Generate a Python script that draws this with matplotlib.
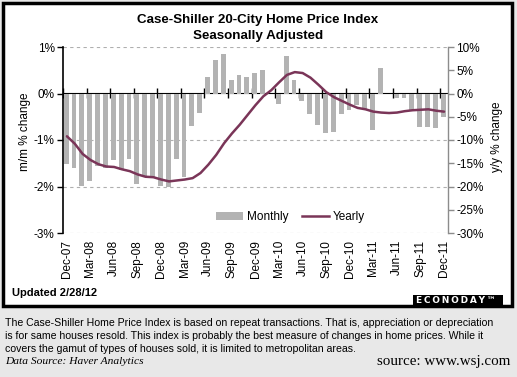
import matplotlib
matplotlib.use("Agg")
import matplotlib.pyplot as plt
from matplotlib.patches import Rectangle, Patch
from matplotlib.lines import Line2D
from matplotlib.ticker import FuncFormatter, FixedLocator, NullFormatter
import numpy as np

# ---------------- data ----------------
tick_labels = ["Dec-07", "Mar-08", "Jun-08", "Sep-08", "Dec-08", "Mar-09", "Jun-09",
               "Sep-09", "Dec-09", "Mar-10", "Jun-10", "Sep-10", "Dec-10", "Mar-11",
               "Jun-11", "Sep-11", "Dec-11"]

# monthly (m/m % change), Dec-07 .. Dec-11
monthly = [-1.52, -1.61, -1.98, -1.89, -1.55, -1.60, -1.42, -1.65, -1.40, -1.94,
           -1.78, -1.80, -1.98, -2.01, -1.41, -1.80, -0.70, -0.42, 0.35, 0.72,
           0.85, 0.30, 0.40, 0.35, 0.45, 0.50, 0.00, -0.22, 0.81, 0.28,
           -0.17, -0.45, -0.68, -0.86, -0.83, -0.45, -0.35, -0.24, -0.33, -0.78,
           0.54, -0.02, -0.09, -0.10, -0.35, -0.73, -0.73, -0.75, -0.51]

# yearly (y/y % change), Dec-07 .. Dec-11
yearly = [-9.2, -10.8, -13.0, -14.3, -15.2, -15.7, -15.8, -16.3, -16.7, -17.4,
          -17.9, -18.0, -18.5, -18.9, -18.7, -18.5, -18.2, -17.1, -15.3, -13.2,
          -10.7, -8.6, -6.7, -4.6, -2.5, -0.6, 0.7, 2.4, 4.0, 4.6,
          4.4, 3.4, 1.9, 0.3, -0.8, -1.6, -2.4, -3.1, -3.4, -3.9,
          -4.1, -4.2, -4.1, -3.8, -3.6, -3.5, -3.4, -3.7, -3.9]

left_ticks = [1, 0, -1, -2, -3]
right_ticks = [10, 5, 0, -5, -10, -15, -20, -25, -30]

# ---------------- style ----------------
W, H = 517, 377
BG = "#E8E8E8"
BAR = "#B3B3B3"
LINE = "#7A3558"
FONT = "Liberation Sans"

plt.rcParams["font.family"] = [FONT, "DejaVu Sans"]

fig = plt.figure(figsize=(W / 100, H / 100), dpi=100, facecolor=BG)


def fx(px):
    return px / W


def fy(py):
    return 1 - py / H


# white chart frame
fig.add_artist(Rectangle((fx(3), fy(306)), fx(512) - fx(3), fy(3) - fy(306),
                         transform=fig.transFigure, facecolor="white",
                         edgecolor="black", lw=2.5, zorder=0))

L, R, T, B = 63, 448, 47, 233
ax = fig.add_axes([fx(L), fy(B), fx(R) - fx(L), fy(T) - fy(B)])
ax.set_facecolor("none")

n = len(monthly)
x = np.arange(n)
ax.bar(x - 0.1, monthly, width=0.62, color=BAR, zorder=1)
ax.set_xlim(-0.5, n - 0.5)
ax.set_ylim(-3, 1)

# gridlines (dashed)
for v in left_ticks:
    if v != 0:
        ax.axhline(v, color="#AFAFAF", lw=0.8, ls=(0, (3, 3)), zorder=0.5)

for s in ["top", "bottom", "right"]:
    ax.spines[s].set_visible(False)
ax.spines["left"].set_linewidth(1.2)
ax.spines["left"].set_color("black")

ax.set_yticks(left_ticks)
ax.yaxis.set_major_formatter(FuncFormatter(lambda v, p: f"{int(round(v))}%"))
ax.tick_params(axis="y", direction="out", length=4, width=1, colors="black",
               labelsize=8.5, pad=2)

# x tick labels at bottom
lab_pos = np.arange(0, n, 3)
ax.set_xticks(lab_pos)
ax.set_xticklabels(tick_labels, rotation=90, fontsize=8.5)
ax.tick_params(axis="x", length=0, pad=5)

# zero axis line with tick marks
sec = ax.secondary_xaxis(0.75)
sec.spines["bottom"].set_linewidth(1.2)
sec.spines["bottom"].set_color("black")
sec.xaxis.set_major_locator(FixedLocator(list(np.arange(-0.5, n, 3))))
sec.xaxis.set_major_formatter(NullFormatter())
sec.tick_params(axis="x", direction="inout", length=7, width=1, colors="black")

# right axis (yearly)
ax2 = ax.twinx()
ax2.set_ylim(-30, 10)
ax2.plot(x, yearly, color=LINE, lw=1.8, zorder=3, solid_capstyle="round")
for s in ["top", "bottom", "left"]:
    ax2.spines[s].set_visible(False)
ax2.spines["right"].set_color("#8C8C8C")
ax2.spines["right"].set_linewidth(1)
ax2.set_yticks(right_ticks)
ax2.yaxis.set_major_formatter(FuncFormatter(lambda v, p: f"{int(round(v))}%"))
ax2.tick_params(axis="y", direction="out", length=4, width=1, colors="#8C8C8C",
                labelcolor="black", labelsize=8.5, pad=2)

# legend
handles = [Patch(facecolor=BAR, edgecolor="none"),
           Line2D([], [], color=LINE, lw=1.8)]
ax2.legend(handles, ["Monthly", "Yearly"], loc="center",
           bbox_to_anchor=((290.5 - L) / (R - L), (B - 217) / (B - T)),
           ncol=2, frameon=False, fontsize=8.5, handlelength=2.3,
           handletextpad=0.3, columnspacing=1.2, handleheight=0.6)

# axis titles
fig.text(fx(25), fy(132), "m/m % change", rotation=90, ha="center", va="center",
         fontsize=8.5)
fig.text(fx(497), fy(137), "y/y % change", rotation=90, ha="center", va="center",
         fontsize=8.5)

# chart title
fig.text(fx(258), fy(20), "Case-Shiller 20-City Home Price Index", ha="center",
         va="center", fontsize=9.6, fontweight="bold")
fig.text(fx(258), fy(36), "Seasonally Adjusted", ha="center", va="center",
         fontsize=9.6, fontweight="bold")

fig.text(fx(12), fy(293), "Updated 2/28/12", ha="left", va="center",
         fontsize=8, fontweight="bold")

# logo
fig.add_artist(Rectangle((fx(413), fy(305)), fx(503) - fx(413), fy(295) - fy(305),
                         transform=fig.transFigure, facecolor="black",
                         edgecolor="none", zorder=3))
logo = fig.text(fx(456), fy(300.3), "E\u2009C\u2009O\u2009N\u2009O\u2009D\u2009A\u2009Y\u2009\u2122",
                ha="center", va="center", fontsize=7, fontweight="bold",
                color="white", zorder=4, family="DejaVu Sans")

# footnote text
para = ["The Case-Shiller Home Price Index is based on repeat transactions. That is, appreciation or depreciation",
        "is for same houses resold. This index is probably the best measure of changes in home prices. While it",
        "covers the gamut of types of houses sold, it is limited to metropolitan areas."]
ptexts = []
for i, line in enumerate(para):
    ptexts.append(fig.text(fx(5), fy(322.7 + 13 * i), line, ha="left",
                           va="center", fontsize=7.4, color="black"))
ds = fig.text(fx(5), fy(362), "Data Source: Haver Analytics", ha="left",
              va="center", fontsize=7.6, style="italic", family="Liberation Serif")
src = fig.text(fx(510), fy(361), "source: www.wsj.com", ha="right", va="center",
               fontsize=10.5, family="Liberation Serif")

# fit text widths to reference
fig.canvas.draw()
r = fig.canvas.get_renderer()
w0 = ptexts[0].get_window_extent(r).width
scale = 488 / w0
for t in ptexts:
    t.set_fontsize(t.get_fontsize() * scale)
ws = src.get_window_extent(r).width
src.set_fontsize(src.get_fontsize() * 133 / ws)
wd = ds.get_window_extent(r).width
ds.set_fontsize(ds.get_fontsize() * 137 / wd)
wl = logo.get_window_extent(r).width
logo.set_fontsize(logo.get_fontsize() * 80 / wl)

fig.savefig("out.png", dpi=100, facecolor=BG)
